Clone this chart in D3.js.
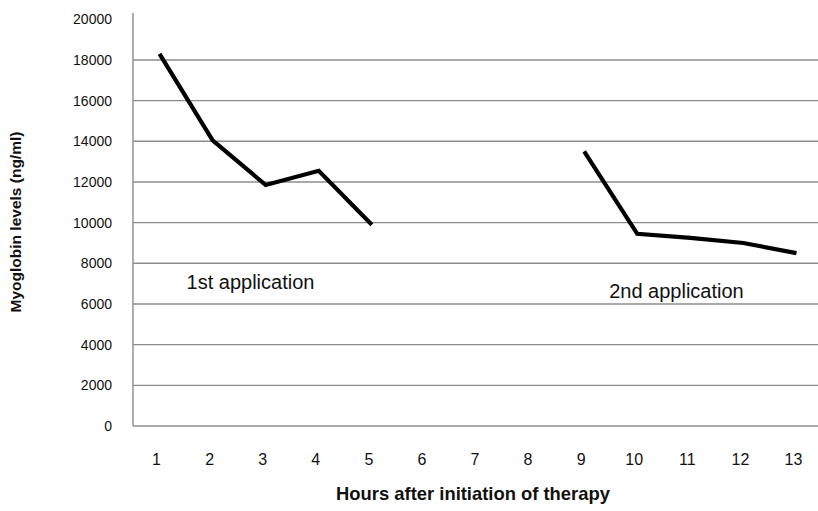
<!DOCTYPE html>
<html>
<head>
<meta charset="utf-8">
<script src="https://cdn.jsdelivr.net/npm/d3@7"></script>
<style>
  html, body { margin: 0; padding: 0; background: #fff; }
  svg { display: block; }
  text { font-family: "Liberation Sans", Arial, Helvetica, sans-serif; fill: #111; }
</style>
</head>
<body>
<svg id="chart" width="818" height="511"></svg>
<script>
// Hours after initiation of therapy
const hours = ["1","2","3","4","5","6","7","8","9","10","11","12","13"];
// Myoglobin levels (ng/ml); no measurement between the two applications
const myoglobin = [18300, 14050, 11850, 12550, 9900, null, null, null, 13500, 9450, 9250, 9000, 8500];
// Y axis tick values
const yTicks = [0, 2000, 4000, 6000, 8000, 10000, 12000, 14000, 16000, 18000, 20000];
// Annotations placed under each treatment
const phaseLabels = ["1st application", "2nd application"];
const phaseAnchors = [{ hour: "1", value: 7000 }, { hour: "9", value: 6550 }];

const svg = d3.select("#chart");
const plotLeft = 133, plotRight = 823, plotTop = 19.3, plotBottom = 426;

const x = d3.scaleBand().domain(hours).range([plotLeft, plotRight]).padding(0);
const y = d3.scaleLinear().domain([0, 20000]).range([plotBottom, plotTop]);
const cx = h => x(h) + x.bandwidth() / 2;

// horizontal gridlines (top value has none)
svg.append("g")
  .selectAll("line")
  .data(yTicks.filter(v => v < 20000))
  .join("line")
  .attr("x1", plotLeft).attr("x2", 818)
  .attr("y1", d => y(d)).attr("y2", d => y(d))
  .attr("stroke", "#8c8c8c").attr("stroke-width", 1.4);

// vertical axis line
svg.append("line")
  .attr("x1", plotLeft).attr("x2", plotLeft)
  .attr("y1", 13).attr("y2", plotBottom)
  .attr("stroke", "#8c8c8c").attr("stroke-width", 1.4);

// y tick labels
const yAxis = d3.axisLeft(y).tickValues(yTicks).tickSize(0).tickPadding(21).tickFormat(d3.format("d"));
const gy = svg.append("g").attr("transform", `translate(${plotLeft},0)`).call(yAxis);
gy.select(".domain").remove();
gy.selectAll("text").style("font-size", "14px").attr("fill", "#111")
  .style("font-family", "'Liberation Sans', Arial, sans-serif");

// x tick labels
const xAxis = d3.axisBottom(x).tickSize(0).tickPadding(28);
const gx = svg.append("g").attr("transform", `translate(-3,${plotBottom})`).call(xAxis);
gx.select(".domain").remove();
gx.selectAll("text").style("font-size", "16px").attr("fill", "#111")
  .style("font-family", "'Liberation Sans', Arial, sans-serif");

// data line
const line = d3.line()
  .defined(d => d.v != null)
  .x(d => cx(d.h))
  .y(d => y(d.v));

svg.append("path")
  .datum(hours.map((h, i) => ({ h, v: myoglobin[i] })))
  .attr("d", line)
  .attr("fill", "none")
  .attr("stroke", "#000")
  .attr("stroke-width", 4.2)
  .attr("stroke-linejoin", "miter");

// phase annotations
svg.append("g")
  .selectAll("text")
  .data(phaseLabels)
  .join("text")
  .attr("x", (d, i) => cx(phaseAnchors[i].hour) + (i === 0 ? 27 : 25))
  .attr("y", (d, i) => y(phaseAnchors[i].value))
  .attr("dominant-baseline", "middle")
  .style("font-size", "20px")
  .text(d => d);

// axis titles
svg.append("text")
  .attr("x", 473).attr("y", 495)
  .attr("text-anchor", "middle").attr("dominant-baseline", "middle")
  .style("font-size", "18.4px").style("font-weight", "bold")
  .text("Hours after initiation of therapy");

svg.append("text")
  .attr("transform", "translate(17,222) rotate(-90)")
  .attr("text-anchor", "middle").attr("dominant-baseline", "middle")
  .style("font-size", "15.5px").style("font-weight", "bold")
  .text("Myoglobin levels (ng/ml)");
</script>
</body>
</html>
